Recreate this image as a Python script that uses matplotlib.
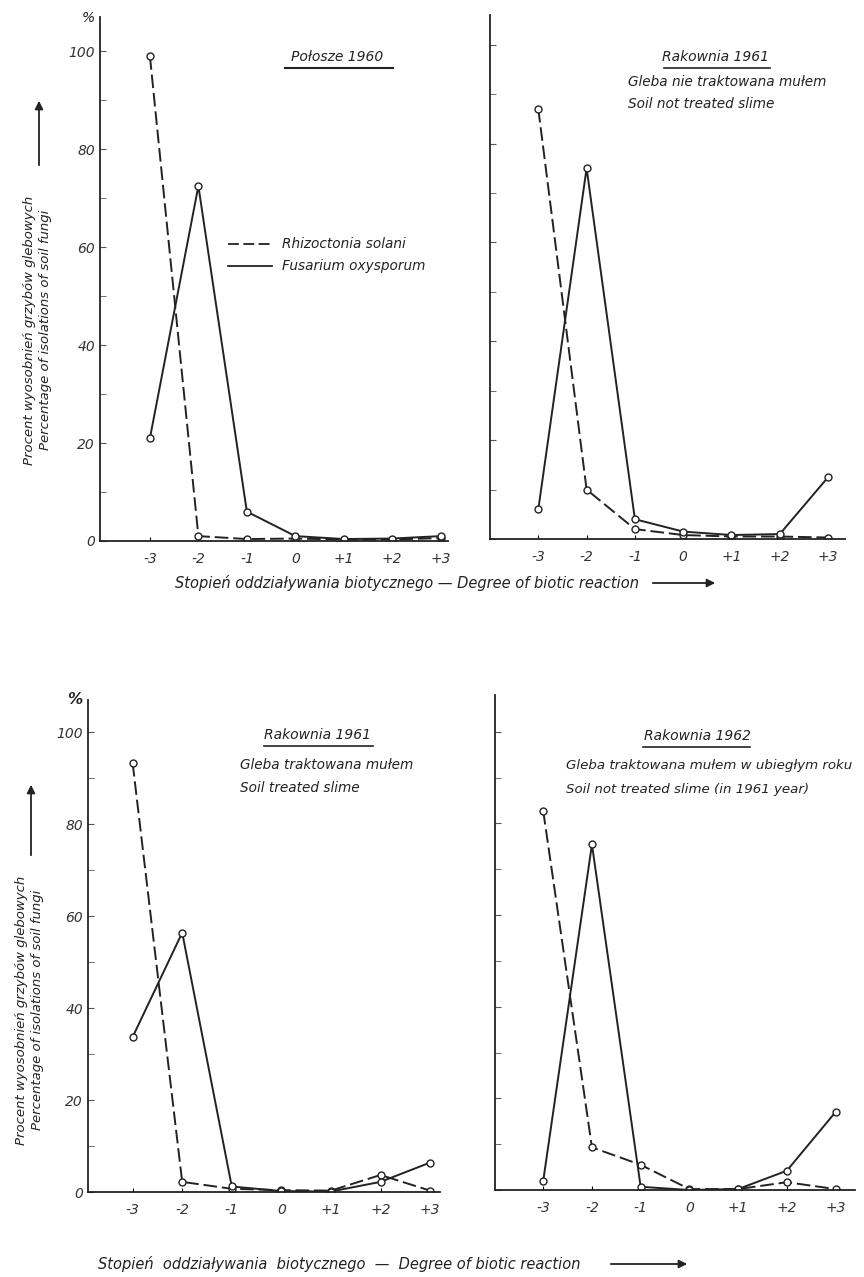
import matplotlib
matplotlib.use("Agg")
import matplotlib.pyplot as plt

plt.rcParams['font.family'] = ['DejaVu Sans']
plt.rcParams['font.style'] = 'italic'

degrees = [-3, -2, -1, 0, 1, 2, 3]
degree_labels = ['-3', '-2', '-1', '0', '+1', '+2', '+3']

# percent of isolations, Rhizoctonia solani (dashed) / Fusarium oxysporum (solid)
rhizo_polosze_1960 = [99, 1, 0.4, 0.5, 0.3, 0.3, 0.6]
fusar_polosze_1960 = [21, 72.5, 6, 1, 0.4, 0.5, 1]

rhizo_rak_1961_untreated = [87, 10, 2, 0.8, 0.5, 0.5, 0.3]
fusar_rak_1961_untreated = [6, 75, 4, 1.5, 0.8, 1, 12.5]

rhizo_rak_1961_treated = [93.3, 2.2, 0.7, 0.4, 0.3, 3.7, 0.3]
fusar_rak_1961_treated = [33.7, 56.4, 1.2, 0.2, 0.1, 2.2, 6.4]

rhizo_rak_1962 = [82.7, 9.3, 5.5, 0.2, 0.2, 1.7, 0.2]
fusar_rak_1962 = [2, 75.4, 0.7, 0, 0.2, 4.2, 17]

W, H = 864, 1277
fig = plt.figure(figsize=(W / 100, H / 100), dpi=100)


def px_axes(x0, x1, ytop, ybot):
    return fig.add_axes([x0 / W, 1 - ybot / H, (x1 - x0) / W, (ybot - ytop) / H])


def panel(ax, rhizo, fusar, xlim, ytop, show_labels):
    ax.plot(degrees, rhizo, color='#222', lw=1.4, ls=(0, (7, 2.5)),
            marker='o', ms=5, mfc='white', mec='#222', mew=1)
    ax.plot(degrees, fusar, color='#222', lw=1.4,
            marker='o', ms=5, mfc='white', mec='#222', mew=1)
    ax.set_xlim(*xlim)
    ax.set_ylim(0, ytop)
    for s in ['top', 'right']:
        ax.spines[s].set_visible(False)
    for s in ['left', 'bottom']:
        ax.spines[s].set_linewidth(1.3)
        ax.spines[s].set_color('#222')
    ax.set_xticks(degrees)
    ax.set_xticklabels(degree_labels, fontsize=10, color='#333')
    ax.tick_params(axis='x', direction='in', length=3, pad=8)
    ax.set_yticks([0, 20, 40, 60, 80, 100])
    ax.set_yticks([10, 30, 50, 70, 90], minor=True)
    ax.tick_params(axis='y', which='both', direction='in', length=4, color='#555')
    if show_labels:
        ax.set_yticklabels(['0', '20', '40', '60', '80', '100'], fontsize=10, color='#333')
    else:
        ax.set_yticklabels([])


ax1 = px_axes(100, 448, 17, 541)
panel(ax1, rhizo_polosze_1960, fusar_polosze_1960, (-4.03, 3.15), 107, True)
ax2 = px_axes(490, 845, 15, 539)
panel(ax2, rhizo_rak_1961_untreated, fusar_rak_1961_untreated, (-4.0, 3.35), 106, False)
ax3 = px_axes(88, 440, 700, 1192)
panel(ax3, rhizo_rak_1961_treated, fusar_rak_1961_treated, (-3.9, 3.2), 107, True)
ax4 = px_axes(495, 855, 695, 1190)
panel(ax4, rhizo_rak_1962, fusar_rak_1962, (-3.99, 3.4), 108, False)


def ftext(x, y, s, **kw):
    kw.setdefault('fontsize', 9.8)
    kw.setdefault('color', '#222')
    fig.text(x / W, 1 - y / H, s, **kw)


def farrow(x0, y0, x1, y1):
    fig.add_artist(matplotlib.patches.FancyArrowPatch(
        (x0 / W, 1 - y0 / H), (x1 / W, 1 - y1 / H), transform=fig.transFigure,
        arrowstyle='-|>', mutation_scale=12, color='#222', lw=1.3))


# percent signs
ftext(88, 18, '%', fontsize=10, ha='center', va='center')
ftext(75, 700, '%', fontsize=11, ha='center', va='center', weight='bold')

# y-axis labels with arrows
for xc, yc, ya0, ya1 in [(38, 330, 168, 98), (30, 1010, 858, 782)]:
    ftext(xc - 8, yc, 'Procent wyosobnień grzybów glebowych', rotation=90,
          ha='center', va='center', fontsize=9.5)
    ftext(xc + 8, yc, 'Percentage of isolations of soil fungi', rotation=90,
          ha='center', va='center', fontsize=9.5)
    farrow(xc + 1, ya0, xc + 1, ya1)

# x-axis labels with arrows
ftext(175, 583, 'Stopień oddziaływania biotycznego — Degree of biotic reaction',
      ha='left', va='center', fontsize=10.5)
farrow(650, 583, 718, 583)
ftext(98, 1264, 'Stopień  oddziaływania  biotycznego  —  Degree of biotic reaction',
      ha='left', va='center', fontsize=10.5)
farrow(608, 1264, 690, 1264)

# panel titles
ftext(337, 57, 'Połosze 1960', ha='center', va='center', fontsize=10)
fig.add_artist(plt.Line2D([285 / W, 393 / W], [1 - 68 / H, 1 - 68 / H], color='#222', lw=1.5))

ftext(716, 57, 'Rakownia 1961', ha='center', va='center', fontsize=10)
fig.add_artist(plt.Line2D([664 / W, 770 / W], [1 - 68 / H, 1 - 68 / H], color='#222', lw=1.2))
ftext(628, 82, 'Gleba nie traktowana mułem', ha='left', va='center')
ftext(628, 104, 'Soil not treated slime', ha='left', va='center')

ftext(318, 735, 'Rakownia 1961', ha='center', va='center', fontsize=10)
fig.add_artist(plt.Line2D([264 / W, 373 / W], [1 - 746 / H, 1 - 746 / H], color='#222', lw=1.2))
ftext(240, 765, 'Gleba traktowana mułem', ha='left', va='center')
ftext(240, 788, 'Soil treated slime', ha='left', va='center')

ftext(697, 736, 'Rakownia 1962', ha='center', va='center', fontsize=10)
fig.add_artist(plt.Line2D([643 / W, 750 / W], [1 - 747 / H, 1 - 747 / H], color='#222', lw=1.2))
ftext(566, 766, 'Gleba traktowana mułem w ubiegłym roku', ha='left', va='center', fontsize=9.6)
ftext(566, 789, 'Soil not treated slime (in 1961 year)', ha='left', va='center', fontsize=9.6)

# legend
fig.add_artist(plt.Line2D([228 / W, 272 / W], [1 - 244 / H, 1 - 244 / H],
                          color='#222', lw=1.3, ls=(0, (6, 2.5))))
ftext(282, 244, 'Rhizoctonia solani', ha='left', va='center')
fig.add_artist(plt.Line2D([228 / W, 272 / W], [1 - 266 / H, 1 - 266 / H], color='#222', lw=1.3))
ftext(282, 266, 'Fusarium oxysporum', ha='left', va='center')

fig.savefig('out.png', dpi=100, facecolor='white')
